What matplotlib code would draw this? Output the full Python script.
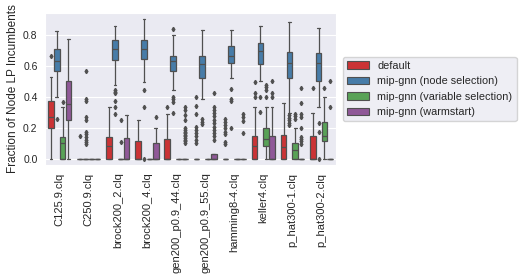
import matplotlib
matplotlib.use("Agg")
import matplotlib.pyplot as plt
import seaborn as sns
from matplotlib.patches import Patch

sns.set_style("darkgrid")
plt.rcParams['font.family'] = ['Liberation Sans', 'DejaVu Sans']

categories = ['C125.9.clq', 'C250.9.clq', 'brock200_2.clq', 'brock200_4.clq',
              'gen200_p0.9_44.clq', 'gen200_p0.9_55.clq', 'hamming8-4.clq',
              'keller4.clq', 'p_hat300-1.clq', 'p_hat300-2.clq']
methods = ['default', 'mip-gnn (node selection)',
           'mip-gnn (variable selection)', 'mip-gnn (warmstart)']

# box statistics, one list per method
default_q1 = [0.203, 0, 0, 0, 0, 0, 0, 0, 0, 0]
default_med = [0.273, 0, 0.085, 0, 0, 0, 0, 0.086, 0.076, 0]
default_q3 = [0.374, 0, 0.144, 0.115, 0.132, 0, 0, 0.146, 0.157, 0.146]
default_lo = [0, 0, 0, 0, 0, 0, 0, 0, 0, 0]
default_hi = [0.527, 0, 0.333, 0.253, 0.289, 0, 0, 0.335, 0.364, 0.30]
default_fl = [[0.667], [0.148], [], [], [0.333],
              [0.403, 0.343, 0.29, 0.21, 0.189, 0.167, 0.146, 0.124, 0.107],
              [0.259, 0.238, 0.221, 0.199, 0.178, 0.163, 0.109, 0.097],
              [0.50, 0.425, 0.40], [], [0.457]]

node_q1 = [0.568, 0, 0.639, 0.643, 0.568, 0.525, 0.622, 0.611, 0.525, 0.504]
node_med = [0.632, 0, 0.707, 0.710, 0.633, 0.613, 0.667, 0.699, 0.618, 0.622]
node_q3 = [0.707, 0, 0.768, 0.768, 0.667, 0.667, 0.729, 0.750, 0.692, 0.682]
node_lo = [0.40, 0, 0.477, 0.50, 0.446, 0.386, 0.521, 0.504, 0.30, 0.339]
node_hi = [0.828, 0, 0.858, 0.90, 0.80, 0.832, 0.832, 0.86, 0.88, 0.847]
node_fl = [[0.256],
           [0.57, 0.388, 0.375, 0.274, 0.253, 0.178, 0.16, 0.14, 0.125, 0.11, 0.097],
           [0.445, 0.434, 0.424, 0.376, 0.333, 0.288],
           [0.446, 0.335, 0.0],
           [0.839, 0.403, 0.386, 0.371, 0.30],
           [0.258, 0.242, 0.227],
           [0.452, 0.386, 0.375, 0.203],
           [0.40, 0.306],
           [0.285, 0.268, 0.253, 0.236, 0.221],
           [0.236, 0.172, 0.0]]

var_q1 = [0, 0, 0, 0, 0, 0, 0, 0.086, 0, 0.118]
var_med = [0.105, 0, 0, 0, 0, 0, 0, 0.131, 0.06, 0.146]
var_q3 = [0.144, 0, 0, 0, 0, 0, 0, 0.2, 0.103, 0.238]
var_lo = [0, 0, 0, 0, 0, 0, 0, 0, 0, 0]
var_hi = [0.333, 0, 0, 0, 0, 0, 0, 0.335, 0.2, 0.40]
var_fl = [[0.366], [], [0.254, 0.112], [], [], [], [],
          [0.478, 0.463, 0.446, 0.40], [0.29, 0.275, 0.26], [0.457]]

warm_q1 = [0.252, 0, 0, 0, 0, 0, 0, 0, 0, 0]
warm_med = [0.353, 0, 0, 0, 0, 0, 0, 0, 0, 0]
warm_q3 = [0.501, 0, 0.135, 0.103, 0, 0.034, 0, 0.146, 0, 0]
warm_lo = [0, 0, 0, 0, 0, 0, 0, 0, 0, 0]
warm_hi = [0.776, 0, 0.285, 0.203, 0, 0.034, 0, 0.335, 0, 0]
warm_fl = [[], [], [], [0.274],
           [0.339, 0.318, 0.285, 0.253, 0.2, 0.189, 0.178, 0.167, 0.157,
            0.146, 0.135, 0.124, 0.114, 0.103],
           [0.429, 0.339, 0.318, 0.296, 0.275, 0.253, 0.232, 0.21, 0.189,
            0.167, 0.146, 0.124],
           [0.291, 0.27, 0.248, 0.167],
           [0.504, 0.429, 0.399],
           [0.457, 0.364, 0.29, 0.27, 0.203, 0.145, 0.13, 0.115, 0.10],
           [0.506, 0.335]]

stats_by_method = [
    (default_q1, default_med, default_q3, default_lo, default_hi, default_fl),
    (node_q1, node_med, node_q3, node_lo, node_hi, node_fl),
    (var_q1, var_med, var_q3, var_lo, var_hi, var_fl),
    (warm_q1, warm_med, warm_q3, warm_lo, warm_hi, warm_fl),
]

colors = sns.color_palette('Set1', 4, desat=0.75)
gray = '#505050'

fig = plt.figure(figsize=(5.25, 2.8), dpi=100)
ax = fig.add_axes([0.086, 0.411, 0.554, 0.542])

n = len(methods)
box_w = 0.8 / n * 0.98
for j, (q1, med, q3, lo, hi, fl) in enumerate(stats_by_method):
    stats = []
    for i in range(len(categories)):
        stats.append(dict(med=med[i], q1=q1[i], q3=q3[i],
                          whislo=lo[i], whishi=hi[i], fliers=fl[i]))
    pos = [i - 0.4 + 0.8 / n * (j + 0.5) for i in range(len(categories))]
    ax.bxp(stats, positions=pos, widths=box_w, patch_artist=True,
           manage_ticks=False,
           boxprops=dict(facecolor=colors[j], edgecolor=gray, linewidth=0.9),
           medianprops=dict(color=gray, linewidth=0.9),
           whiskerprops=dict(color=gray, linewidth=0.9),
           capprops=dict(color=gray, linewidth=0.9),
           flierprops=dict(marker='d', markersize=2.2, markerfacecolor=gray,
                           markeredgecolor=gray, linestyle='none'))

ax.set_xticks(range(len(categories)))
ax.set_xticklabels(categories, rotation=90, fontsize=8)
ax.set_xlim(-0.5, len(categories) - 0.5)
ax.set_ylim(-0.037, 0.94)
ax.set_yticks([0.0, 0.2, 0.4, 0.6, 0.8])
ax.tick_params(axis='y', labelsize=7.5, pad=2)
ax.tick_params(axis='x', pad=2)
ax.xaxis.grid(False)
ax.set_ylabel('Fraction of Node LP Incumbents', fontsize=8.5, labelpad=3)

handles = [Patch(facecolor=colors[j], edgecolor=gray, linewidth=0.8)
           for j in range(n)]
ax.legend(handles, methods, loc='center left', bbox_to_anchor=(1.0, 0.5),
          fontsize=7.8, borderaxespad=0.6)

fig.savefig('out.png', dpi=100)
